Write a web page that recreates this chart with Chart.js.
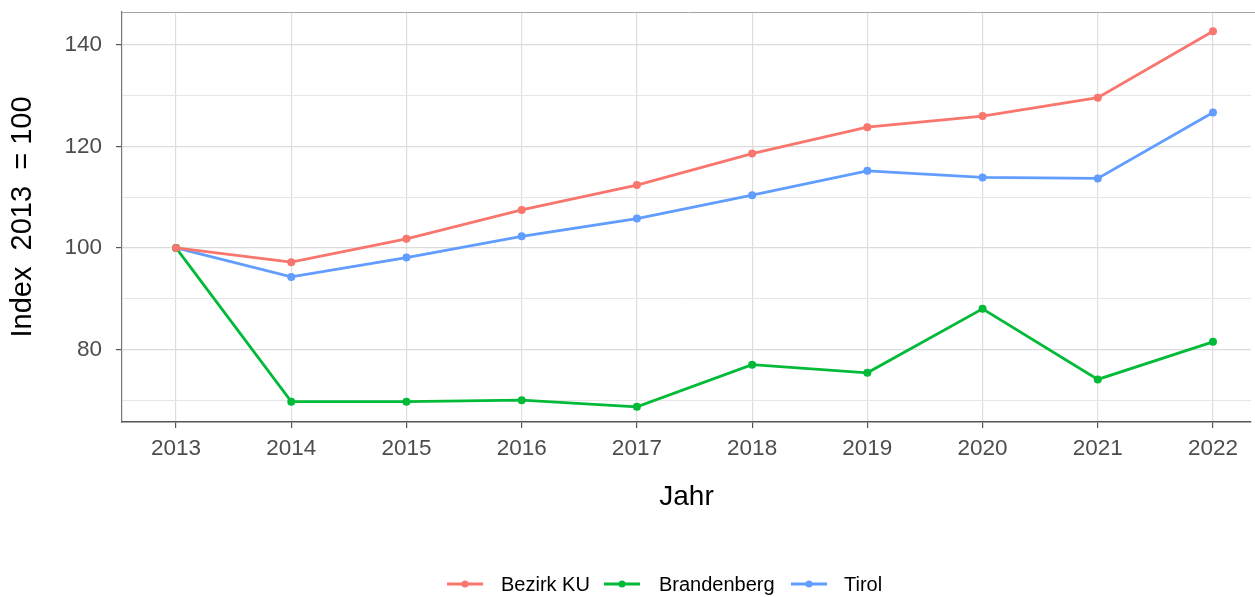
<!DOCTYPE html>
<html>
<head>
<meta charset="utf-8">
<script src="https://cdn.jsdelivr.net/npm/chart.js@4/dist/chart.umd.min.js"></script>
<style>
  html, body { margin: 0; padding: 0; background: #fff; overflow: hidden; }
</style>
</head>
<body>
<canvas id="lineChart" width="1255" height="597"></canvas>
<script>
const years = [2013, 2014, 2015, 2016, 2017, 2018, 2019, 2020, 2021, 2022];
const bezirkKU = [100, 97.2, 101.8, 107.5, 112.4, 118.6, 123.8, 126.0, 129.6, 142.7];
const brandenberg = [100, 69.7, 69.7, 70.0, 68.7, 77.0, 75.4, 88.0, 74.1, 81.5];
const tirol = [100, 94.3, 98.1, 102.3, 105.8, 110.4, 115.2, 113.9, 113.7, 126.7];
const yLabels = [80, 100, 120, 140];
const seriesNames = ["Bezirk KU", "Brandenberg", "Tirol"];
const seriesColors = ["#F8766D", "#00BA38", "#619CFF"];

const font = "'Liberation Sans', Arial, sans-serif";

function pairs(values) {
  return years.map((yr, i) => ({ x: yr, y: values[i] }));
}

const allSeries = [bezirkKU, brandenberg, tirol];

// ggplot style legend + top panel border
const extras = {
  id: "extras",
  afterDraw(chart) {
    const ctx = chart.ctx;
    const area = chart.chartArea;
    ctx.save();
    ctx.strokeStyle = "#a6a6a6";
    ctx.lineWidth = 1;
    ctx.beginPath();
    ctx.moveTo(area.left, area.top + 0.5);
    ctx.lineTo(chart.width, area.top + 0.5);
    ctx.stroke();

    const legendY = 584;
    const items = [
      { x0: 447, tx: 501 },
      { x0: 604, tx: 659 },
      { x0: 791, tx: 844 }
    ];
    ctx.font = "20px " + font;
    ctx.textBaseline = "middle";
    ctx.textAlign = "left";
    items.forEach((it, i) => {
      ctx.strokeStyle = seriesColors[i];
      ctx.fillStyle = seriesColors[i];
      ctx.lineWidth = 3;
      ctx.beginPath();
      ctx.moveTo(it.x0, legendY);
      ctx.lineTo(it.x0 + 36, legendY);
      ctx.stroke();
      ctx.beginPath();
      ctx.arc(it.x0 + 18, legendY, 3.5, 0, Math.PI * 2);
      ctx.fill();
      ctx.fillStyle = "#000";
      ctx.fillText(seriesNames[i], it.tx, legendY + 1);
    });
    ctx.restore();
  }
};

const ctx = document.getElementById("lineChart");
const myChart = new Chart(ctx, {
  type: "line",
  data: {
    datasets: allSeries.map((vals, i) => ({
      label: seriesNames[i],
      data: pairs(vals),
      borderColor: seriesColors[i],
      backgroundColor: seriesColors[i],
      borderWidth: 2.8,
      pointRadius: 4,
      pointBorderWidth: 0,
      pointHoverRadius: 4,
      fill: false,
      tension: 0
    }))
  },
  options: {
    responsive: false,
    animation: false,
    events: [],
    layout: { padding: { top: 12, left: 0, right: 0, bottom: 0 } },
    plugins: {
      legend: { display: false },
      tooltip: { enabled: false }
    },
    scales: {
      x: {
        type: "linear",
        min: 2012.531,
        max: 2022.33,
        afterFit(scale) {
          scale.height = 175;
          scale.paddingLeft = 0;
          scale.paddingRight = 0;
        },
        ticks: {
          stepSize: 1,
          includeBounds: false,
          autoSkip: false,
          maxRotation: 0,
          padding: 7,
          color: "#4d4d4d",
          font: { family: font, size: 22.5 },
          callback: (v) => String(v)
        },
        grid: {
          color: "#dedede",
          lineWidth: 1.2,
          tickColor: "#555",
          tickLength: 6
        },
        border: { color: "#555", width: 1.6 },
        title: {
          display: true,
          text: "Jahr",
          color: "#000",
          font: { family: font, size: 28 },
          padding: { top: 0, bottom: 83 }
        }
      },
      y: {
        type: "linear",
        min: 65.7,
        max: 146.5,
        afterFit(scale) {
          scale.width = 122;
          scale.paddingTop = 0;
          scale.paddingBottom = 0;
        },
        ticks: {
          stepSize: 10,
          includeBounds: false,
          autoSkip: false,
          padding: 14,
          color: "#4d4d4d",
          font: { family: font, size: 22.5 },
          callback: (v) => (yLabels.includes(v) ? String(v) : "")
        },
        grid: {
          color: (c) => (c.tick && yLabels.includes(c.tick.value) ? "#dcdcdc" : "#e6e6e6"),
          lineWidth: (c) => (c.tick && yLabels.includes(c.tick.value) ? 1.2 : 1),
          tickColor: (c) => (c.tick && yLabels.includes(c.tick.value) ? "#555" : "rgba(0,0,0,0)"),
          tickLength: 6
        },
        border: { color: "#777", width: 1.2 },
        title: {
          display: true,
          text: "Index  2013  = 100",
          color: "#000",
          font: { family: font, size: 29 },
          padding: { top: 6, bottom: 0 }
        }
      }
    }
  },
  plugins: [extras]
});
</script>
</body>
</html>
